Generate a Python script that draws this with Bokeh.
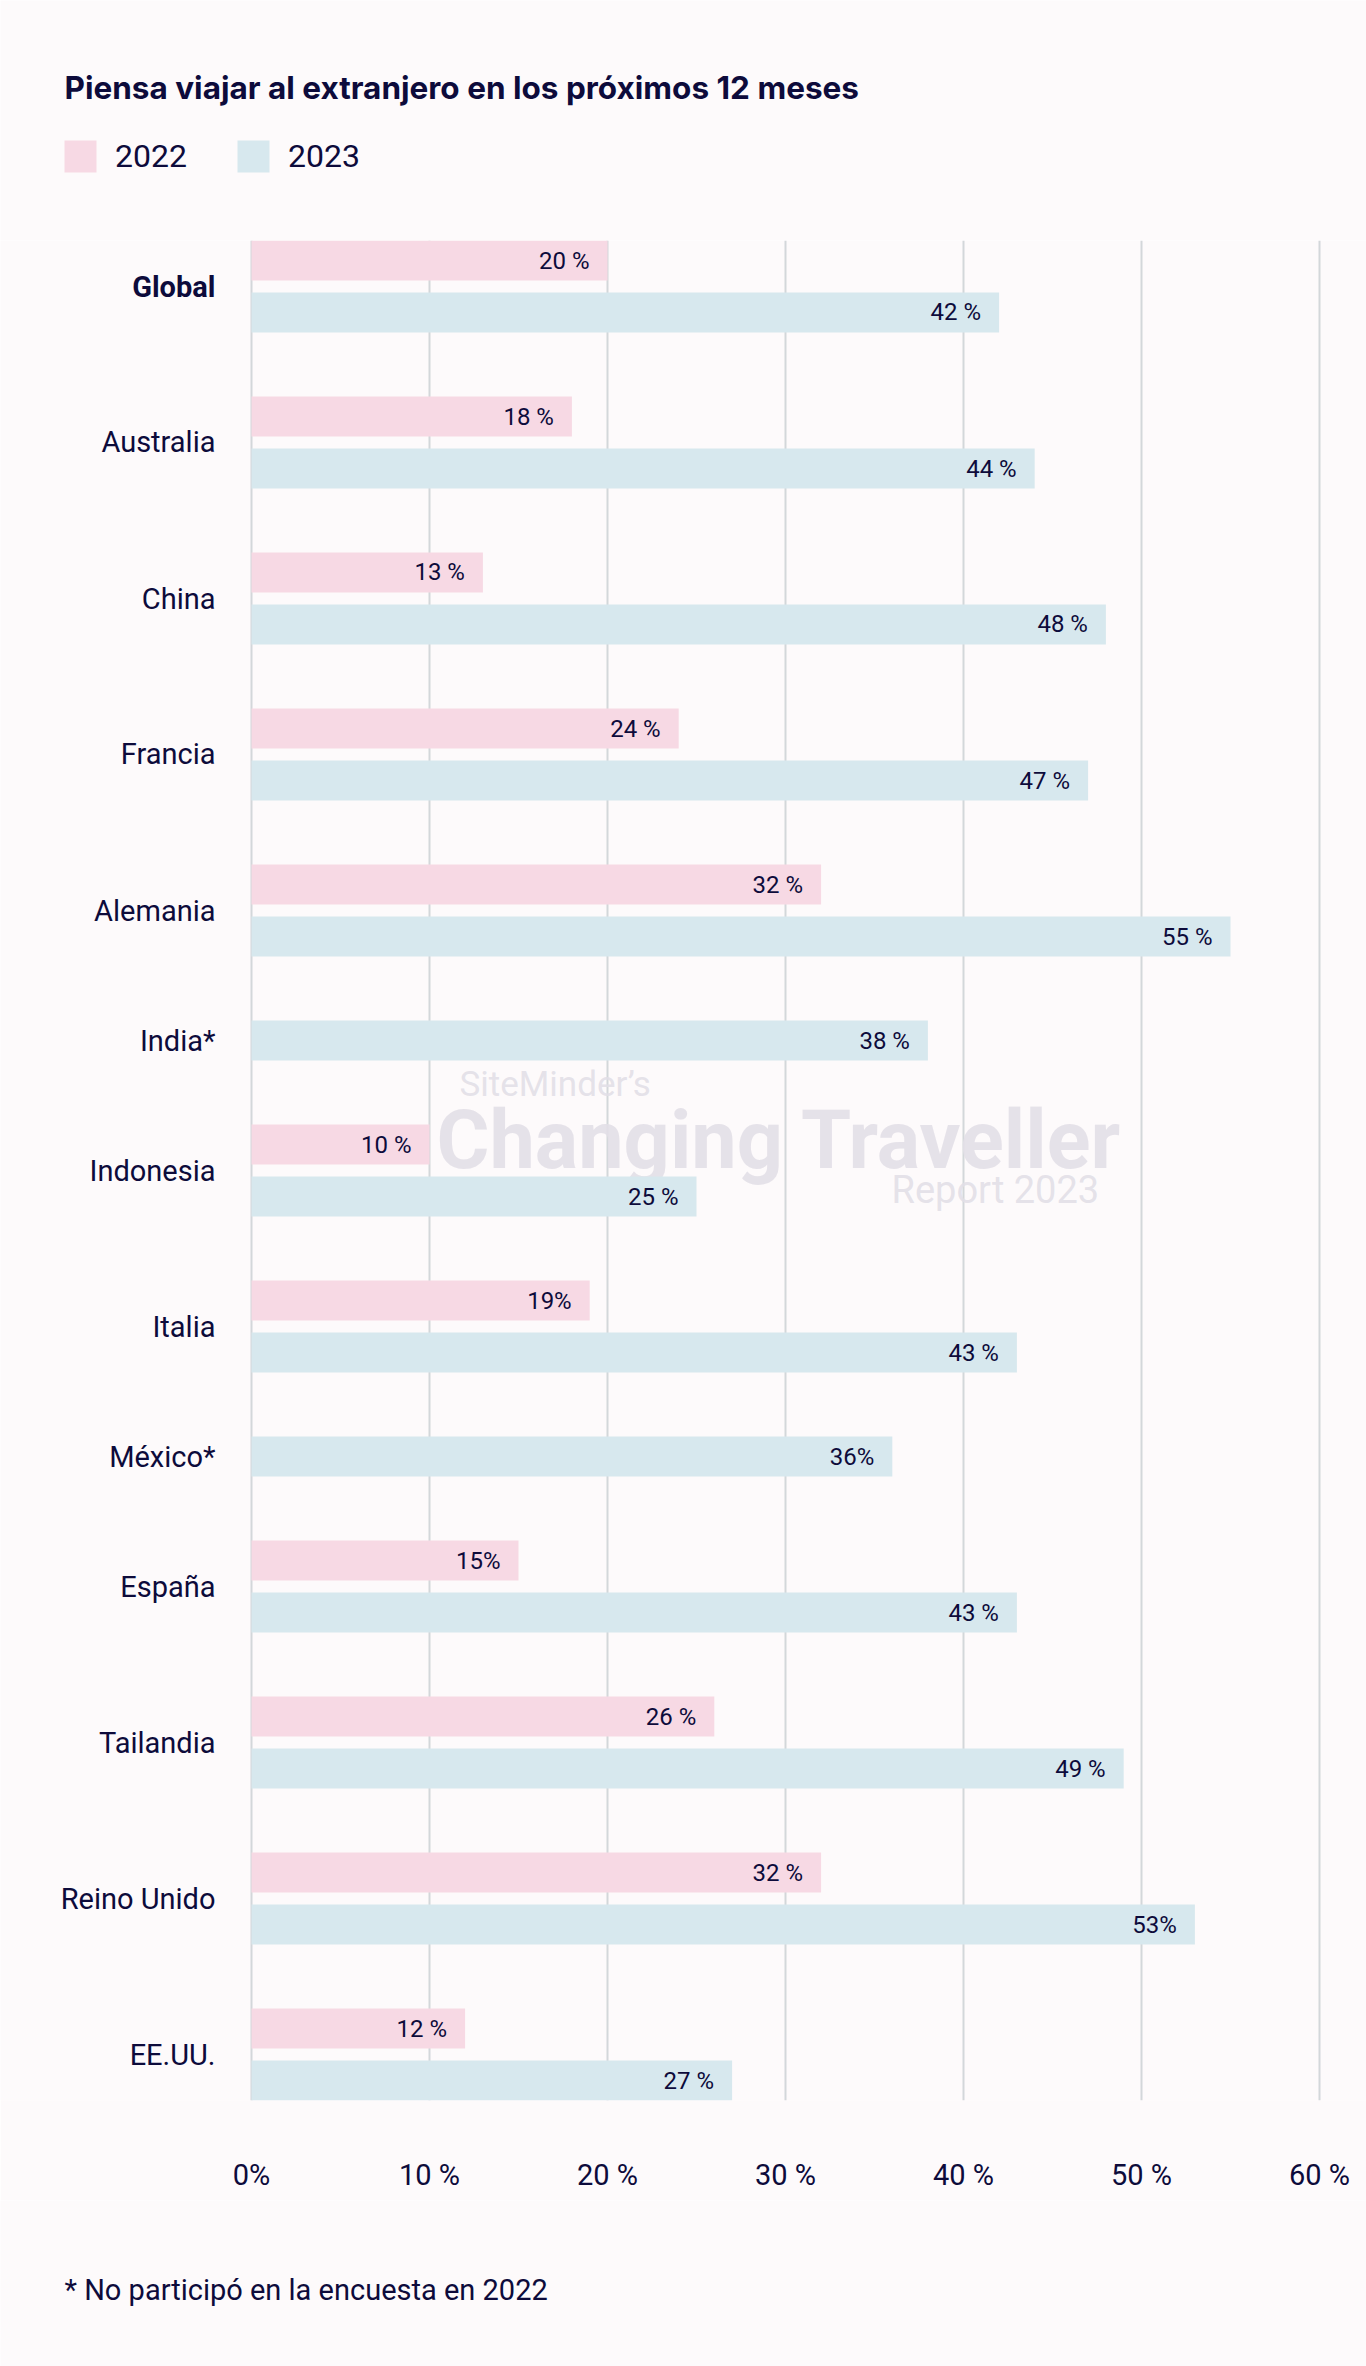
from bokeh.plotting import figure
from bokeh.layouts import column
from bokeh.models import (FactorRange, Range1d, ColumnDataSource, Label, Legend,
                          LegendItem, FixedTicker)
from bokeh.core.properties import value
from bokeh.embed import file_html
from bokeh.resources import INLINE

# ---------------- data ----------------
countries = ["Global", "Australia", "China", "Francia", "Alemania", "India*",
             "Indonesia", "Italia", "México*", "España", "Tailandia",
             "Reino Unido", "EE.UU."]
v2022 = [20, 18, 13, 24, 32, None, 10, 19, None, 15, 26, 32, 12]
v2023 = [42, 44, 48, 47, 55, 38, 25, 43, 36, 43, 49, 53, 27]
lbl2022 = ["20 %", "18 %", "13 %", "24 %", "32 %", None, "10 %", "19%", None,
           "15%", "26 %", "32 %", "12 %"]
lbl2023 = ["42 %", "44 %", "48 %", "47 %", "55 %", "38 %", "25 %", "43 %",
           "36%", "43 %", "49 %", "53%", "27 %"]
bold_countries = ["Global"]
years = ["2022", "2023"]
xticks = [0, 10, 20, 30, 40, 50, 60]
xtick_labels = ["0%", "10 %", "20 %", "30 %", "40 %", "50 %", "60 %"]
title_text = "Piensa viajar al extranjero en los próximos 12 meses"
footnote_text = "* No participó en la encuesta en 2022"
watermark = ["SiteMinder’s", "Changing Traveller", "Report 2023"]

# ---------------- styles ----------------
FONT = "Roboto"
TITLE_FONT = "Inter"
NAVY = "#0d0b3b"
PINK = "#f7d9e4"
BLUE = "#d7e8ee"
GRID = "#d3d7da"
BG = "#fdfafb"
WM = "#e2dfe7"

W, H = 1366, 2366
FRAME_TOP, FRAME_BOTTOM = 240, 2100
MAIN_BOTTOM = 2200
X0_PX, X60_PX = 251, 1319
px_per = (X60_PX - X0_PX) / 60.0


def blank(fig):
    fig.background_fill_color = BG
    fig.border_fill_color = BG
    fig.outline_line_color = None
    fig.xaxis.visible = False
    fig.yaxis.visible = False
    fig.xgrid.visible = False
    fig.ygrid.visible = False


# ---------------- factors ----------------
factors = []
y22, x22, t22 = [], [], []
y23, x23, t23 = [], [], []
for c, a, b, la, lb in zip(countries, v2022, v2023, lbl2022, lbl2023):
    if a is not None:
        factors.append((c, years[0]))
        y22.append((c, years[0])); x22.append(a); t22.append(la)
    factors.append((c, years[1]))
    y23.append((c, years[1])); x23.append(b); t23.append(lb)
factors = factors[::-1]

src22 = ColumnDataSource(dict(y=y22, x=x22, label=t22))
src23 = ColumnDataSource(dict(y=y23, x=x23, label=t23))
src_c = ColumnDataSource(dict(
    country=countries,
    style=["bold" if c in bold_countries else "normal" for c in countries],
))

# ---------------- header (title + legend) ----------------
head = figure(width=W, height=FRAME_TOP, output_backend="svg",
              toolbar_location=None, title=None,
              x_range=Range1d(0, W), y_range=Range1d(FRAME_TOP, 0),
              min_border=0)
blank(head)
head.text(x=[64], y=[87], text=[title_text], text_font=value(TITLE_FONT),
          text_font_size="31.5px", text_font_style="bold", text_color=NAVY,
          text_baseline="alphabetic")
# legend-only renderers (placed outside the visible header range)
dummy = ColumnDataSource(dict(y=[-100], x=[0]))
h22 = head.hbar(y="y", right="x", left=0, height=1, source=dummy,
                fill_color=PINK, line_color=None)
h23 = head.hbar(y="y", right="x", left=0, height=1, source=dummy,
                fill_color=BLUE, line_color=None)
legend = Legend(
    items=[LegendItem(label=years[0], renderers=[h22]),
           LegendItem(label=years[1], renderers=[h23])],
    orientation="horizontal", location=(60, FRAME_TOP - 176),
    glyph_width=40, glyph_height=40, label_height=40, label_width=10,
    spacing=46, label_standoff=15, padding=0, margin=0,
    border_line_color=None, background_fill_alpha=0,
    label_text_font=FONT, label_text_font_size="32px", label_text_color=NAVY,
)
head.add_layout(legend)

# ---------------- main chart ----------------
p = figure(
    width=W, height=MAIN_BOTTOM - FRAME_TOP,
    output_backend="svg", toolbar_location=None, title=None,
    x_range=Range1d(-X0_PX / px_per, (W - X0_PX) / px_per),
    y_range=FactorRange(*factors, range_padding=0, factor_padding=0.3,
                        group_padding=1.6),
    min_border_left=0, min_border_right=0,
    min_border_top=0, min_border_bottom=MAIN_BOTTOM - FRAME_BOTTOM,
)
p.background_fill_color = BG
p.border_fill_color = BG
p.outline_line_color = None
p.yaxis.visible = False
p.ygrid.visible = False

ticker = FixedTicker(ticks=xticks)
p.xaxis.ticker = ticker
p.xgrid.ticker = ticker
p.xgrid.grid_line_color = GRID
p.xgrid.grid_line_width = 2
p.xaxis.axis_line_color = None
p.xaxis.major_tick_line_color = None
p.xaxis.minor_tick_line_color = None
p.xaxis.major_tick_out = 0
p.xaxis.major_tick_in = 0
p.xaxis.major_label_standoff = 57
p.xaxis.major_label_overrides = dict(zip(xticks, xtick_labels))
p.xaxis.major_label_text_font = FONT
p.xaxis.major_label_text_font_size = "29px"
p.xaxis.major_label_text_color = NAVY

r22 = p.hbar(y="y", right="x", left=0, height=1.0, source=src22,
             fill_color=PINK, line_color=None)
r23 = p.hbar(y="y", right="x", left=0, height=1.0, source=src23,
             fill_color=BLUE, line_color=None)

# watermark (page pixel positions), drawn under the value labels
wm_specs = [(watermark[0], 459, 1084, "35px", "normal"),
            (watermark[1], 436, 1140, "81px", "bold"),
            (watermark[2], 891, 1189, "38px", "normal")]
for txt, sx, sy, fs, st in wm_specs:
    p.add_layout(Label(x=sx, y=FRAME_BOTTOM - sy, x_units="screen",
                       y_units="screen", text=txt, text_font=FONT,
                       text_font_size=fs, text_font_style=st, text_color=WM,
                       text_alpha=0.9, text_baseline="alphabetic",
                       level="underlay"))

for src in (src22, src23):
    p.text(x="x", y="y", text="label", source=src, x_offset=-18,
           text_align="right", text_baseline="middle",
           text_font=value(FONT), text_font_size="24px", text_color=NAVY)

p.text(x=0, y="country", text="country", source=src_c, x_offset=-36,
       text_align="right", text_baseline="middle", text_font=value(FONT),
       text_font_size="29px", text_font_style="style", text_color=NAVY)

# ---------------- footer ----------------
FOOT_H = H - MAIN_BOTTOM
foot = figure(width=W, height=FOOT_H, output_backend="svg",
              toolbar_location=None, title=None,
              x_range=Range1d(0, W), y_range=Range1d(FOOT_H, 0),
              min_border=0)
blank(foot)
foot.text(x=[64], y=[2289 - MAIN_BOTTOM], text=[footnote_text],
          text_font=value(FONT), text_font_size="29px", text_color=NAVY,
          text_baseline="alphabetic")

layout = column(head, p, foot, spacing=0)
open("out.html", "w").write(file_html(layout, INLINE))
